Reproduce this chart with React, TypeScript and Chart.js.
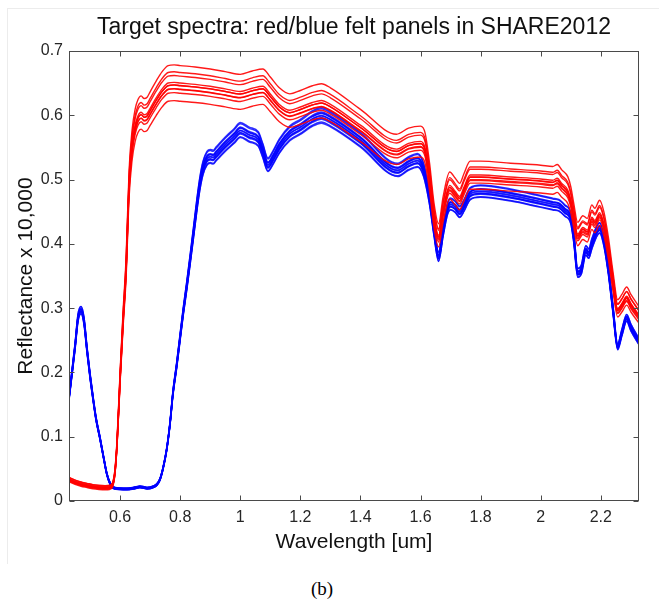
import React, { useEffect, useRef } from "react";
import { Chart, registerables } from "chart.js";

Chart.register(...registerables);

// Wavelength grid (µm) and median spectrum of the red felt panels
const redWavelength = [
  0.43, 0.45, 0.47, 0.49, 0.51, 0.53, 0.55, 0.565, 0.575, 0.583, 0.59, 0.6, 0.61, 0.62, 0.63, 0.64, 0.65,
  0.66, 0.67, 0.68, 0.69, 0.7, 0.72, 0.74, 0.76, 0.78, 0.8, 0.85, 0.9, 0.95, 1.0, 1.04, 1.075, 1.1, 1.13,
  1.165, 1.2, 1.24, 1.27, 1.3, 1.4, 1.52, 1.56, 1.6, 1.615, 1.63, 1.645, 1.66, 1.675, 1.697, 1.715, 1.73,
  1.745, 1.765, 1.8, 1.9, 2.0, 2.04, 2.055, 2.07, 2.09, 2.1, 2.11, 2.123, 2.14, 2.155, 2.17, 2.18, 2.196,
  2.21, 2.225, 2.24, 2.256, 2.27, 2.286, 2.3, 2.327,
];
const redBase = [
  0.033, 0.029, 0.026, 0.024, 0.022, 0.021, 0.0205, 0.021, 0.025, 0.045, 0.09, 0.19, 0.28, 0.36, 0.49, 0.55,
  0.58, 0.595, 0.6, 0.596, 0.598, 0.606, 0.622, 0.636, 0.645, 0.646, 0.645, 0.643, 0.64, 0.636, 0.632, 0.637,
  0.64, 0.628, 0.612, 0.603, 0.608, 0.615, 0.618, 0.612, 0.58, 0.543, 0.552, 0.555, 0.545, 0.5, 0.44, 0.41,
  0.45, 0.487, 0.478, 0.47, 0.485, 0.503, 0.503, 0.5, 0.497, 0.495, 0.498, 0.49, 0.48, 0.465, 0.44, 0.412,
  0.422, 0.418, 0.438, 0.433, 0.445, 0.428, 0.39, 0.34, 0.297, 0.305, 0.316, 0.305, 0.287,
];
// Per-panel gain (read from the plateau at 0.8 µm) and small offset (line spread at 0.5 µm)
const redGain = [1.047, 1.035, 1.02, 1.008, 1.005, 1.0, 0.997, 0.99, 0.985, 0.964];
const redOffset = [0.002, -0.001, 0.003, 0, -0.002, 0.001, -0.003, 0.002, -0.001, 0];

// Median spectrum of the blue felt panels
const blueWavelength = [
  0.43, 0.44, 0.45, 0.46, 0.47, 0.48, 0.49, 0.5, 0.51, 0.52, 0.533, 0.545, 0.556, 0.566, 0.576, 0.6, 0.623,
  0.645, 0.666, 0.68, 0.69, 0.71, 0.723, 0.733, 0.743, 0.755, 0.766, 0.776, 0.788, 0.799, 0.81, 0.822, 0.833,
  0.845, 0.856, 0.866, 0.876, 0.889, 0.9, 0.91, 0.92, 0.95, 0.98, 1.0, 1.03, 1.06, 1.075, 1.092, 1.11, 1.13,
  1.165, 1.2, 1.24, 1.27, 1.3, 1.4, 1.524, 1.56, 1.59, 1.61, 1.63, 1.645, 1.66, 1.675, 1.69, 1.7, 1.715, 1.73,
  1.745, 1.765, 1.8, 1.9, 2.0, 2.04, 2.06, 2.08, 2.1, 2.11, 2.123, 2.135, 2.15, 2.16, 2.17, 2.196, 2.21, 2.225,
  2.24, 2.256, 2.27, 2.286, 2.3, 2.327,
];
const blueBase = [
  0.16, 0.2, 0.24, 0.285, 0.297, 0.28, 0.235, 0.195, 0.16, 0.128, 0.098, 0.068, 0.042, 0.028, 0.021, 0.019,
  0.0187, 0.02, 0.022, 0.021, 0.02, 0.022, 0.026, 0.034, 0.051, 0.08, 0.12, 0.168, 0.21, 0.252, 0.294, 0.335,
  0.375, 0.42, 0.462, 0.495, 0.518, 0.533, 0.536, 0.535, 0.54, 0.555, 0.568, 0.577, 0.57, 0.563, 0.545, 0.523,
  0.535, 0.552, 0.572, 0.582, 0.595, 0.6, 0.594, 0.562, 0.515, 0.525, 0.53, 0.515, 0.47, 0.42, 0.38, 0.42,
  0.455, 0.462, 0.458, 0.45, 0.46, 0.478, 0.482, 0.476, 0.466, 0.462, 0.46, 0.452, 0.44, 0.41, 0.355, 0.36,
  0.39, 0.385, 0.4, 0.425, 0.405, 0.36, 0.3, 0.24, 0.262, 0.285, 0.27, 0.248,
];
const blueGain = [0.978, 0.984, 0.988, 0.992, 0.995, 0.998, 1.0, 1.003, 1.006, 1.01, 1.015, 1.022];
const blueOffset = [0.001, -0.001, 0.001, 0, -0.001, 0.001, -0.001, 0.001, 0, -0.001, 0.001, -0.001];

const xTicks = [0.6, 0.8, 1, 1.2, 1.4, 1.6, 1.8, 2, 2.2];
const yTicks = [0, 0.1, 0.2, 0.3, 0.4, 0.5, 0.6, 0.7];

const TITLE = "Target spectra: red/blue felt panels in SHARE2012";
const FONT = '"Liberation Sans", Arial, Helvetica, sans-serif';

const framePlugin = {
  id: "matlabFrame",
  afterDatasetsDraw(chart: any) {
    const { ctx, chartArea, scales } = chart;
    const L = Math.round(chartArea.left) + 0.5;
    const R = Math.round(chartArea.right) - 0.5;
    const T = Math.round(chartArea.top) + 0.5;
    const B = Math.round(chartArea.bottom) - 0.5;
    ctx.save();
    ctx.strokeStyle = "#4a4a4a";
    ctx.lineWidth = 1;
    ctx.strokeRect(L, T, R - L, B - T);
    const len = 5;
    ctx.beginPath();
    for (const v of xTicks) {
      const px = Math.round(scales.x.getPixelForValue(v)) + 0.5;
      ctx.moveTo(px, B);
      ctx.lineTo(px, B - len);
      ctx.moveTo(px, T);
      ctx.lineTo(px, T + len);
    }
    for (const v of yTicks) {
      const py = Math.round(scales.y.getPixelForValue(v)) + 0.5;
      ctx.moveTo(L, py);
      ctx.lineTo(L + len, py);
      ctx.moveTo(R, py);
      ctx.lineTo(R - len, py);
    }
    ctx.stroke();
    // title centred over the axes box
    ctx.fillStyle = "#111";
    ctx.font = `normal 23px ${FONT}`;
    ctx.textAlign = "center";
    ctx.textBaseline = "middle";
    ctx.fillText(TITLE, (chartArea.left + chartArea.right) / 2, 28);
    ctx.restore();
  },
};

export default function App() {
  const ref = useRef<HTMLCanvasElement>(null);

  useEffect(() => {
    const canvas = ref.current;
    if (!canvas) return;
    const redSets = redGain.map((g, k) => ({
      label: `red ${k + 1}`,
      data: redWavelength.map((w, i) => ({ x: w, y: redBase[i] * g + redOffset[k] })),
      borderColor: "rgba(255,0,0,0.9)",
      borderWidth: 1.4,
      pointRadius: 0,
      fill: false,
      cubicInterpolationMode: "monotone" as const,
    }));
    const blueSets = blueGain.map((g, k) => ({
      label: `blue ${k + 1}`,
      data: blueWavelength.map((w, i) => ({ x: w, y: blueBase[i] * g + blueOffset[k] })),
      borderColor: "rgba(0,0,255,0.8)",
      borderWidth: 1.5,
      pointRadius: 0,
      fill: false,
      cubicInterpolationMode: "monotone" as const,
    }));

    const chart = new Chart(canvas, {
      type: "line",
      data: { datasets: [...redSets, ...blueSets] },
      options: {
        responsive: false,
        animation: false,
        devicePixelRatio: 1,
        layout: { padding: { left: 0, right: 20, top: 51, bottom: 0 } },
        plugins: {
          legend: { display: false },
          tooltip: { enabled: false },
          title: { display: false },
        },
        scales: {
          x: {
            type: "linear",
            min: 0.43,
            max: 2.327,
            afterBuildTicks: (s: any) => {
              s.ticks = xTicks.map((v) => ({ value: v }));
            },
            afterFit: (s: any) => {
              s.height = 59;
            },
            grid: { display: false, drawTicks: false },
            border: { display: false },
            ticks: {
              color: "#262626",
              font: { family: FONT, size: 16 },
              padding: 7,
              maxRotation: 0,
              autoSkip: false,
              callback: (v: any) => String(v),
            },
            title: {
              display: true,
              text: "Wavelength [um]",
              color: "#111",
              font: { family: FONT, size: 21 },
              padding: { top: 0, bottom: 5 },
            },
          },
          y: {
            type: "linear",
            min: 0,
            max: 0.7,
            afterBuildTicks: (s: any) => {
              s.ticks = yTicks.map((v) => ({ value: v }));
            },
            afterFit: (s: any) => {
              s.width = 69;
            },
            grid: { display: false, drawTicks: false },
            border: { display: false },
            ticks: {
              color: "#262626",
              font: { family: FONT, size: 16 },
              padding: 6,
              autoSkip: false,
              callback: (v: any) => String(v),
            },
            title: {
              display: true,
              text: "Reflectance x 10,000",
              color: "#111",
              font: { family: FONT, size: 21 },
              padding: { top: 14, bottom: 0 },
            },
          },
        },
      },
      plugins: [framePlugin],
    });
    return () => chart.destroy();
  }, []);

  return (
    <div style={{ position: "absolute", left: 0, top: 0, width: 659, height: 601, background: "#fff" }}>
      <div
        style={{
          position: "absolute",
          left: 7,
          top: 8,
          width: 652,
          height: 555,
          borderLeft: "1px solid #ececec",
          borderTop: "1px solid #ececec",
        }}
      />
      <canvas ref={ref} width={659} height={560} style={{ position: "absolute", left: 0, top: 0, width: 659, height: 560 }} />
      <div
        style={{
          position: "absolute",
          left: 0,
          top: 578,
          width: 644,
          textAlign: "center",
          fontFamily: '"Liberation Serif", "Times New Roman", serif',
          fontSize: 19,
          lineHeight: "22px",
          color: "#000",
        }}
      >
        (b)
      </div>
    </div>
  );
}
